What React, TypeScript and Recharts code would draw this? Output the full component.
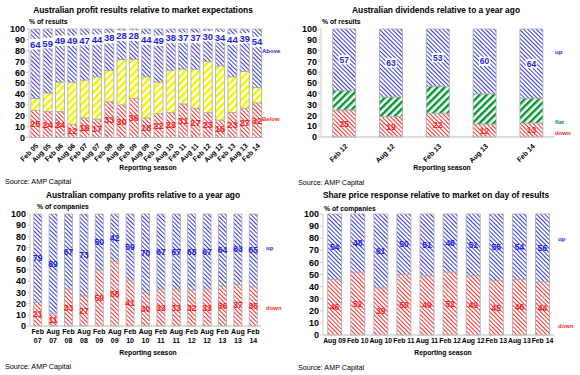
import React from "react";
import { BarChart, Bar, XAxis, YAxis, LabelList } from "recharts";

const FONT = '"Liberation Sans", Arial, sans-serif';

// top left: profit results vs expectations
const SEASONS_1 = ["Feb 05", "Aug 05", "Feb 06", "Aug 06", "Feb 07", "Aug 07", "Feb 08", "Aug 08", "Feb 09", "Aug 09", "Feb 10", "Aug 10", "Feb 11", "Aug 11", "Feb 12", "Aug 12", "Feb 13", "Aug 13", "Feb 14"];
const BELOW_1 = [25, 24, 24, 12, 18, 17, 33, 30, 36, 18, 22, 23, 31, 27, 23, 16, 23, 27, 32];
const INLINE_1 = [11, 17, 27, 39, 35, 39, 29, 42, 36, 38, 29, 39, 32, 36, 47, 50, 33, 34, 14];
const ABOVE_1 = [64, 59, 49, 49, 47, 44, 38, 28, 28, 44, 49, 38, 37, 37, 30, 34, 44, 39, 54];

// top right: dividends vs a year ago
const SEASONS_2 = ["Feb 12", "Aug 12", "Feb 13", "Aug 13", "Feb 14"];
const DOWN_2 = [25, 19, 22, 12, 13];
const FLAT_2 = [18, 18, 25, 28, 23];
const UP_2 = [57, 63, 53, 60, 64];

// bottom left: company profits vs a year ago
const SEASONS_3 = ["Feb 07", "Aug 07", "Feb 08", "Aug 08", "Feb 09", "Aug 09", "Feb 10", "Aug 10", "Feb 11", "Aug 11", "Feb 12", "Aug 12", "Feb 13", "Aug 13", "Feb 14"];
const DOWN_3 = [21, 11, 33, 27, 50, 58, 41, 30, 33, 33, 32, 33, 36, 37, 35];
const UP_3 = [79, 89, 67, 73, 50, 42, 59, 70, 67, 67, 68, 67, 64, 63, 65];

// bottom right: share price response on day of results
const SEASONS_4 = ["Aug 09", "Feb 10", "Aug 10", "Feb 11", "Aug 11", "Feb 12", "Aug 12", "Feb 13", "Aug 13", "Feb 14"];
const DOWN_4 = [46, 52, 39, 50, 49, 52, 49, 45, 46, 44];
const UP_4 = [54, 48, 61, 50, 51, 48, 51, 55, 54, 56];

const Y_TICKS = [0, 10, 20, 30, 40, 50, 60, 70, 80, 90, 100];

const BLUE = "#1f1fe6";
const RED = "#ff1f1f";
const GREEN = "#009a3a";
const OUTLINE = "#a8a8a8";

const data1 = SEASONS_1.map((season, i) => ({ season, below: BELOW_1[i], inline: INLINE_1[i], above: ABOVE_1[i] }));
const data2 = SEASONS_2.map((season, i) => ({ season, down: DOWN_2[i], flat: FLAT_2[i], up: UP_2[i] }));
const data3 = SEASONS_3.map((season, i) => ({ season, down: DOWN_3[i], up: UP_3[i] }));
const data4 = SEASONS_4.map((season, i) => ({ season, down: DOWN_4[i], up: UP_4[i] }));

function segLabel(color: string, size: number, frac: number, boxed: boolean) {
  return (props: any) => {
    const { x, y, width, height, value } = props;
    const cx = Number(x) + Number(width) / 2;
    const cy = Number(y) + Number(height) * frac;
    const w = String(value).length * size * 0.56 + 2;
    return (
      <g>
        {boxed && <rect x={cx - w / 2} y={cy - size * 0.55} width={w} height={size * 1.1} fill="#fff" />}
        <text x={cx} y={cy} dy="0.36em" textAnchor="middle" fill={color} fontSize={size} fontWeight="bold" fontFamily={FONT}>
          {value}
        </text>
      </g>
    );
  };
}

const SlantTick = (props: any) => {
  const { x, y, payload } = props;
  const ax = x + 2;
  return (
    <text x={ax} y={y} transform={`rotate(-45 ${ax} ${y})`} textAnchor="end" dy="0.35em" fontSize={7} fontWeight="bold" fontFamily={FONT} fill="#000">
      {payload.value}
    </text>
  );
};

const TwoLineTick = (props: any) => {
  const { x, y, payload } = props;
  const [m, yr] = String(payload.value).split(" ");
  return (
    <text x={x} y={y} textAnchor="middle" fontSize={7} fontWeight="bold" fontFamily={FONT} fill="#000">
      <tspan x={x} dy="0.75em">{m}</tspan>
      <tspan x={x} dy="1.3em">{yr}</tspan>
    </text>
  );
};

const FlatTick = (props: any) => {
  const { x, y, payload } = props;
  return (
    <text x={x} y={y} dy="0.75em" textAnchor="middle" fontSize={6.8} fontWeight="bold" fontFamily={FONT} fill="#000">
      {payload.value}
    </text>
  );
};

const yTick = { fontSize: 9, fontWeight: "bold", fill: "#000", fontFamily: FONT };

function Text({ x, y, children, color = "#000", size = 7, bold = true, center = false }: any) {
  return (
    <div
      style={{
        position: "absolute",
        left: x,
        top: y,
        transform: center ? "translate(-50%, -50%)" : "translateY(-50%)",
        whiteSpace: "nowrap",
        fontFamily: FONT,
        fontSize: size,
        fontWeight: bold ? "bold" : "normal",
        color,
        lineHeight: 1,
      }}
    >
      {children}
    </div>
  );
}

export default function App() {
  const yAxis = (w: number) => (
    <YAxis
      type="number"
      domain={[0, 100]}
      ticks={Y_TICKS}
      interval={0}
      width={w}
      tick={yTick}
      axisLine={{ stroke: "#cccccc" }}
      tickLine={{ stroke: "#cccccc" }}
      tickSize={3}
      tickMargin={1}
    />
  );

  return (
    <div style={{ position: "absolute", left: 0, top: 0, width: 580, height: 375, background: "#fff", overflow: "hidden" }}>
      <svg width={0} height={0} style={{ position: "absolute" }}>
        <defs>
          <pattern id="hBlue" patternUnits="userSpaceOnUse" width={3} height={3} patternTransform="rotate(-45)">
            <rect width={3} height={3} fill="#ffffff" />
            <rect width={1} height={3} fill="#3a3ae6" />
          </pattern>
          <pattern id="hRed" patternUnits="userSpaceOnUse" width={3} height={3} patternTransform="rotate(-45)">
            <rect width={3} height={3} fill="#ffffff" />
            <rect width={1} height={3} fill="#ff3030" />
          </pattern>
          <pattern id="hYellow" patternUnits="userSpaceOnUse" width={5} height={5} patternTransform="rotate(45)">
            <rect width={5} height={5} fill="#ffffff" />
            <rect width={2.6} height={5} fill="#f5f500" />
          </pattern>
          <pattern id="hGreen" patternUnits="userSpaceOnUse" width={5} height={5} patternTransform="rotate(45)">
            <rect width={5} height={5} fill="#ffffff" />
            <rect width={2.4} height={5} fill="#00952f" />
          </pattern>
        </defs>
      </svg>

      {/* top left */}
      <Text x={143} y={10} size={8.4} center>Australian profit results relative to market expectations</Text>
      <Text x={29} y={22} size={6.8}>% of results</Text>
      <div style={{ position: "absolute", left: 0, top: 0 }}>
        <BarChart width={290} height={190} data={data1} margin={{ top: 29, right: 27, left: 0, bottom: 0 }} barCategoryGap="15%">
          <XAxis dataKey="season" interval={0} height={52.5} tickSize={0} tickMargin={7} tick={<SlantTick />} axisLine={{ stroke: "#bbbbbb" }} />
          {yAxis(29)}
          <Bar dataKey="below" stackId="a" fill="url(#hRed)" stroke={OUTLINE} strokeWidth={0.8} isAnimationActive={false}>
            <LabelList dataKey="below" content={segLabel(RED, 9.5, 0.5, false)} />
          </Bar>
          <Bar dataKey="inline" stackId="a" fill="url(#hYellow)" stroke={OUTLINE} strokeWidth={0.8} isAnimationActive={false} />
          <Bar dataKey="above" stackId="a" fill="url(#hBlue)" stroke={OUTLINE} strokeWidth={0.8} isAnimationActive={false}>
            <LabelList dataKey="above" content={segLabel(BLUE, 9.5, 0.22, true)} />
          </Bar>
        </BarChart>
      </div>
      <Text x={262} y={51} size={6} color={BLUE}>Above</Text>
      <Text x={262} y={119} size={6} color={RED}>Below</Text>
      <Text x={148} y={168} size={6.8} center>Reporting season</Text>
      <Text x={5} y={182} size={7.2} bold={false}>Source: AMP Capital</Text>

      {/* top right */}
      <Text x={436} y={10} size={8.4} center>Australian dividends relative to a year ago</Text>
      <Text x={322} y={22} size={6.8}>% of results</Text>
      <div style={{ position: "absolute", left: 290, top: 0 }}>
        <BarChart width={290} height={190} data={data2} margin={{ top: 29, right: 25, left: 0, bottom: 0 }} barCategoryGap="25%">
          <XAxis dataKey="season" interval={0} height={53} tickSize={0} tickMargin={8} tick={<SlantTick />} axisLine={{ stroke: "#bbbbbb" }} />
          {yAxis(31)}
          <Bar dataKey="down" stackId="a" fill="url(#hRed)" stroke={OUTLINE} strokeWidth={0.8} isAnimationActive={false}>
            <LabelList dataKey="down" content={segLabel(RED, 8.5, 0.5, false)} />
          </Bar>
          <Bar dataKey="flat" stackId="a" fill="url(#hGreen)" stroke={OUTLINE} strokeWidth={0.8} isAnimationActive={false} />
          <Bar dataKey="up" stackId="a" fill="url(#hBlue)" stroke={OUTLINE} strokeWidth={0.8} isAnimationActive={false}>
            <LabelList dataKey="up" content={segLabel(BLUE, 8.5, 0.5, true)} />
          </Bar>
        </BarChart>
      </div>
      <Text x={555} y={52} size={6} color={BLUE}>up</Text>
      <Text x={555} y={122} size={6} color={GREEN}>flat</Text>
      <Text x={555} y={133} size={6} color={RED}>down</Text>
      <Text x={442} y={168} size={6.8} center>Reporting season</Text>
      <Text x={298} y={183} size={7.2} bold={false}>Source: AMP Capital</Text>

      {/* bottom left */}
      <Text x={143} y={195} size={8.4} center>Australian company profits relative to a year ago</Text>
      <Text x={37} y={207} size={6.8}>% of companies</Text>
      <div style={{ position: "absolute", left: 0, top: 185 }}>
        <BarChart width={290} height={190} data={data3} margin={{ top: 29, right: 29, left: 0, bottom: 0 }} barCategoryGap="24%">
          <XAxis dataKey="season" interval={0} height={49} tickSize={0} tickMargin={3} tick={<TwoLineTick />} axisLine={{ stroke: "#bbbbbb" }} />
          {yAxis(30)}
          <Bar dataKey="down" stackId="a" fill="url(#hRed)" stroke={OUTLINE} strokeWidth={0.8} isAnimationActive={false}>
            <LabelList dataKey="down" content={segLabel(RED, 8.5, 0.5, false)} />
          </Bar>
          <Bar dataKey="up" stackId="a" fill="url(#hBlue)" stroke={OUTLINE} strokeWidth={0.8} isAnimationActive={false}>
            <LabelList dataKey="up" content={segLabel(BLUE, 8.5, 0.5, false)} />
          </Bar>
        </BarChart>
      </div>
      <Text x={266} y={248} size={6} color={BLUE}>up</Text>
      <Text x={266} y={308} size={6} color={RED}>down</Text>
      <Text x={148} y={353} size={6.8} center>Reporting season</Text>
      <Text x={5} y={367} size={7.2} bold={false}>Source: AMP Capital</Text>

      {/* bottom right */}
      <Text x={436} y={195} size={8.4} center>Share price response relative to market on day of results</Text>
      <Text x={324} y={209} size={6.8}>% of companies</Text>
      <div style={{ position: "absolute", left: 290, top: 185 }}>
        <BarChart width={290} height={190} data={data4} margin={{ top: 29, right: 26, left: 0, bottom: 0 }} barCategoryGap="20%">
          <XAxis dataKey="season" interval={0} height={40} tickSize={0} tickMargin={3} tick={<FlatTick />} axisLine={{ stroke: "#bbbbbb" }} />
          {yAxis(33)}
          <Bar dataKey="down" stackId="a" fill="url(#hRed)" stroke={OUTLINE} strokeWidth={0.8} isAnimationActive={false}>
            <LabelList dataKey="down" content={segLabel(RED, 8.5, 0.5, false)} />
          </Bar>
          <Bar dataKey="up" stackId="a" fill="url(#hBlue)" stroke={OUTLINE} strokeWidth={0.8} isAnimationActive={false}>
            <LabelList dataKey="up" content={segLabel(BLUE, 8.5, 0.5, false)} />
          </Bar>
        </BarChart>
      </div>
      <Text x={558} y={239} size={6} color={BLUE}>up</Text>
      <Text x={558} y={326} size={6} color={RED}>down</Text>
      <Text x={443} y={353} size={6.8} center>Reporting season</Text>
      <Text x={298} y={368} size={7.2} bold={false}>Source: AMP Capital</Text>
    </div>
  );
}
